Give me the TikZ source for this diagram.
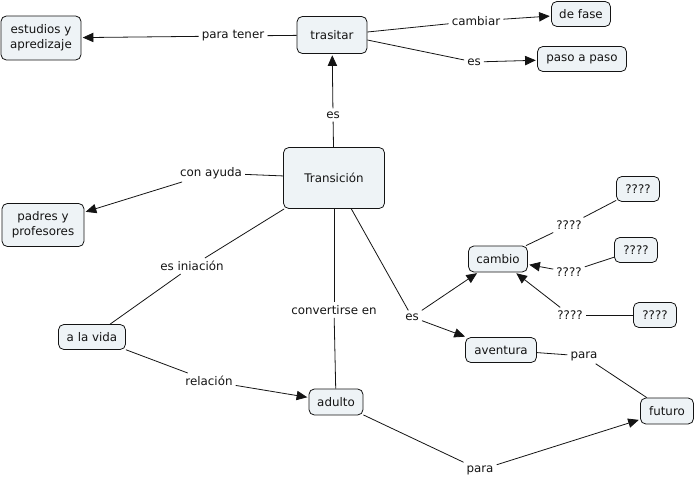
\documentclass[tikz,border=0pt]{standalone}
\usepackage{fontspec}
\setmainfont{DejaVu Sans}
\usetikzlibrary{arrows.meta}
\definecolor{boxfill}{RGB}{238,243,246}
\definecolor{ink}{RGB}{20,20,20}
\tikzset{
  concept/.style={draw=ink, fill=boxfill, rounded corners=4pt, line width=0.6pt,
    inner sep=0pt, align=center, font=\fontsize{8.9}{11.2}\selectfont, text=ink},
  lab/.style={inner sep=2.2pt, font=\fontsize{8.9}{11}\selectfont, text=ink, fill=white},
  link/.style={draw=ink, line width=0.6pt},
  arr/.style={link, -{Triangle[length=8pt,width=7pt]}, shorten >=1pt},
}
\begin{document}
\begin{tikzpicture}[x=0.75pt,y=-0.75pt]
\useasboundingbox (0,0) rectangle (696,483);
% concepts
\node[concept, minimum width=60pt, minimum height=33pt] (est) at (41,38) {estudios y\\apredizaje};
\node[concept, minimum width=52.5pt, minimum height=27.75pt] (tra) at (332,35) {trasitar};
\node[concept, minimum width=44.25pt, minimum height=18.75pt] (fase) at (581,14) {de fase};
\node[concept, minimum width=66.75pt, minimum height=18.75pt] (paso) at (582,59) {paso a paso};
\node[concept, minimum width=75.75pt, minimum height=45.75pt] (trans) at (334,178) {Transición};
\node[concept, minimum width=61.5pt, minimum height=32.25pt] (pad) at (43,225) {padres y\\profesores};
\node[concept, minimum width=32.25pt, minimum height=18.75pt] (q1) at (638,189) {????};
\node[concept, minimum width=32.25pt, minimum height=18.75pt] (q2) at (636,250) {????};
\node[concept, minimum width=32.25pt, minimum height=18.75pt] (q3) at (655,315) {????};
\node[concept, minimum width=44.25pt, minimum height=19.5pt] (cam) at (498,259) {cambio};
\node[concept, minimum width=53.25pt, minimum height=18.75pt] (ave) at (501,350) {aventura};
\node[concept, minimum width=50.25pt, minimum height=18.75pt] (vida) at (92,337) {a la vida};
\node[concept, minimum width=40.5pt, minimum height=19.5pt] (adu) at (336,402) {adulto};
\node[concept, minimum width=39.75pt, minimum height=19.5pt] (fut) at (667,411) {futuro};
% labels
\node[lab] (lpt) at (233,36) {para tener};
\node[lab] (les1) at (333,115) {es};
\node[lab] (lcam) at (476,21) {cambiar};
\node[lab] (les2) at (474,62) {es};
\node[lab] (lcon) at (211,173) {con ayuda};
\node[lab] (lini) at (192,266) {es iniación};
\node[lab] (lconv) at (334,310) {convertirse en};
\node[lab] (les3) at (412,317) {es};
\node[lab] (lq1) at (569,225) {????};
\node[lab] (lq2) at (569,272) {????};
\node[lab] (lq3) at (570,315) {????};
\node[lab] (lpara1) at (584,356) {para};
\node[lab] (lrel) at (209,381) {relación};
\node[lab] (lpara2) at (480,470) {para};
% connectors
\draw[link] (tra) -- (lpt);
\draw[arr] (lpt) -- (est);
\draw[link] (trans) -- (les1);
\draw[arr] (les1) -- (tra);
\draw[link] (tra.east) ++(0,-3) coordinate (t1) (t1) -- (lcam);
\draw[arr] (lcam) -- (fase);
\draw[link] (tra.east) ++(0,5) coordinate (t2) (t2) -- (les2);
\draw[arr] (les2) -- (paso);
\draw[link] (trans) -- (lcon);
\draw[arr] (lcon) -- (pad);
\draw[link] (trans) -- (lini);
\draw[link] (lini) -- (vida);
\draw[link] (trans) -- (lconv);
\draw[link] (lconv) -- (adu);
\draw[link] (trans) -- (les3);
\draw[arr] (les3) -- (cam);
\draw[arr] (les3) -- (ave);
\draw[link] (q1) -- (lq1);
\draw[link] (lq1) -- (cam);
\draw[link] (q2) -- (lq2);
\draw[arr] (lq2) -- (cam);
\draw[link] (q3) -- (lq3);
\draw[arr] (lq3) -- (cam);
\draw[link] (ave) -- (lpara1);
\draw[link] (lpara1) -- (fut);
\draw[link] (vida) -- (lrel);
\draw[arr] (lrel) -- (adu);
\draw[link] (adu) -- (lpara2);
\draw[arr] (lpara2) -- (fut);
\end{tikzpicture}
\end{document}
